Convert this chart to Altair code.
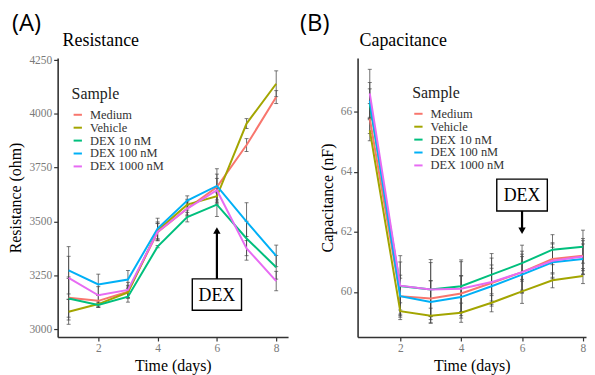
import altair as alt
import pandas as pd

days = [1, 2, 3, 4, 5, 6, 7, 8]
samples = ["Medium", "Vehicle", "DEX 10 nM", "DEX 100 nM", "DEX 1000 nM"]
colors = ["#F8766D", "#A3A500", "#00BF7D", "#00B0F6", "#E76BF3"]

# Resistance (ohm)
res_medium = [3145, 3131, 3173, 3450, 3560, 3660, 3855, 4078]
res_vehicle = [3080, 3116, 3170, 3458, 3578, 3617, 3955, 4140]
res_dex10 = [3142, 3112, 3150, 3383, 3520, 3578, 3421, 3287]
res_dex100 = [3273, 3207, 3230, 3467, 3597, 3665, 3499, 3340]
res_dex1000 = [3238, 3157, 3182, 3452, 3560, 3645, 3375, 3223]
res_err_medium = [90, 25, 30, 40, 35, 60, 30, 30]
res_err_vehicle = [58, 15, 25, 40, 25, 40, 23, 60]
res_err_dex10 = [100, 12, 25, 5, 22, 55, 80, 55]
res_err_dex100 = [110, 48, 42, 48, 22, 80, 88, 50]
res_err_dex1000 = [100, 40, 35, 40, 30, 55, 55, 45]

# Capacitance (nF)
cap_medium = [65.78, 59.86, 59.78, 59.95, 60.30, 60.66, 61.10, 61.21]
cap_vehicle = [65.39, 59.36, 59.21, 59.31, 59.64, 60.02, 60.39, 60.53]
cap_dex10 = [66.27, 60.20, 60.08, 60.19, 60.58, 60.96, 61.41, 61.51]
cap_dex100 = [66.38, 59.86, 59.67, 59.83, 60.19, 60.58, 60.99, 61.10]
cap_dex1000 = [66.62, 60.21, 60.08, 60.11, 60.33, 60.66, 61.04, 61.18]
cap_err_medium = [0.5, 0.6, 0.6, 0.6, 0.6, 0.6, 0.5, 0.5]
cap_err_vehicle = [0.35, 0.28, 0.25, 0.32, 0.3, 0.4, 0.25, 0.25]
cap_err_dex10 = [0.5, 0.8, 0.9, 0.88, 0.7, 0.6, 0.5, 0.55]
cap_err_dex100 = [0.6, 0.7, 0.7, 0.7, 0.6, 0.6, 0.5, 0.5]
cap_err_dex1000 = [0.8, 1.0, 1.0, 0.9, 0.8, 0.7, 0.6, 0.6]

res_ticks = [3000, 3250, 3500, 3750, 4000, 4250]
cap_ticks = [60, 62, 64, 66]
day_ticks = [2, 4, 6, 8]

# DEX annotation (data units)
dex_day = [6]
res_box = [5.17, 6.83, 3087, 3233]
res_arrow = [3233, 3452, 3458]   # shaft start, shaft end, head centre
cap_box = [5.17, 6.83, 62.70, 63.76]
cap_arrow = [62.70, 62.08, 62.04]

SERIF = "Liberation Serif"


def long_df(vals, errs):
    rows = []
    for s, v, e in zip(samples, vals, errs):
        for d, yv, ev in zip(days, v, e):
            rows.append({"day": d, "Sample": s, "value": yv, "lo": yv - ev, "hi": yv + ev})
    return pd.DataFrame(rows)


res_df = long_df([res_medium, res_vehicle, res_dex10, res_dex100, res_dex1000],
                 [res_err_medium, res_err_vehicle, res_err_dex10, res_err_dex100, res_err_dex1000])
cap_df = long_df([cap_medium, cap_vehicle, cap_dex10, cap_dex100, cap_dex1000],
                 [cap_err_medium, cap_err_vehicle, cap_err_dex10, cap_err_dex100, cap_err_dex1000])


def panel(df, xdom, ydom, yticks, ytitle, title, tag, box, arrow, up, legx, legy, w, h,
          tagx, titlex):
    x = alt.X("day:Q", scale=alt.Scale(domain=xdom, nice=False, zero=False),
              axis=alt.Axis(values=day_ticks, title="Time (days)", format="d",
                            titlePadding=3))
    y = alt.Y("value:Q", scale=alt.Scale(domain=ydom, nice=False, zero=False),
              axis=alt.Axis(values=yticks, title=ytitle, format="d"))
    color = alt.Color("Sample:N", scale=alt.Scale(domain=samples, range=colors),
                      legend=alt.Legend(orient="none", legendX=legx, legendY=legy,
                                        title="Sample", symbolType="stroke",
                                        symbolStrokeWidth=2, symbolSize=70,
                                        titleFont=SERIF, titleFontSize=16,
                                        titleFontWeight="normal", titleColor="#222",
                                        labelFont=SERIF, labelFontSize=12.5,
                                        labelColor="#333", rowPadding=0,
                                        titlePadding=7, padding=0, labelOffset=6))
    base = alt.Chart(df)
    bars = base.mark_rule(color="#444", strokeWidth=0.9, opacity=0.85).encode(
        x=x, y="lo:Q", y2="hi:Q")
    caps_lo = base.mark_tick(color="#444", size=4, thickness=1, orient="horizontal").encode(
        x="day:Q", y="lo:Q")
    caps_hi = base.mark_tick(color="#444", size=4, thickness=1, orient="horizontal").encode(
        x="day:Q", y="hi:Q")
    lines = base.mark_line(strokeWidth=2).encode(x=x, y=y, color=color, order="day:Q",
                                                 detail="Sample:N")
    ann = pd.DataFrame({"day": dex_day, "x1": [box[0]], "x2": [box[1]],
                        "y1": [box[2]], "y2": [box[3]], "ym": [(box[2] + box[3]) / 2],
                        "a1": [arrow[0]], "a2": [arrow[1]], "ah": [arrow[2]],
                        "label": ["DEX"], "tag": [tag], "title": [title]})
    abase = alt.Chart(ann)
    rect = abase.mark_rect(fill="white", stroke="black", strokeWidth=1.4).encode(
        x="x1:Q", x2="x2:Q", y="y1:Q", y2="y2:Q")
    txt = abase.mark_text(font=SERIF, fontSize=18, color="black", baseline="middle",
                          dy=1).encode(x="day:Q", y="ym:Q", text="label:N")
    shaft = abase.mark_rule(color="black", strokeWidth=2.2).encode(x="day:Q", y="a1:Q", y2="a2:Q")
    head = abase.mark_point(shape="triangle-up" if up else "triangle-down", filled=True,
                            color="black", size=55, opacity=1).encode(x="day:Q", y="ah:Q")
    tagtxt = abase.mark_text(font="Open Sans", fontSize=24, color="black", align="left",
                             baseline="middle").encode(x=alt.value(tagx), y=alt.value(-34),
                                                       text="tag:N")
    ttl = abase.mark_text(font=SERIF, fontSize=18, color="black", align="left",
                          baseline="alphabetic").encode(x=alt.value(titlex), y=alt.value(-12),
                                                        text="title:N")
    return alt.layer(bars, caps_lo, caps_hi, lines, rect, txt, shaft, head, tagtxt, ttl).properties(
        width=w, height=h)


pa = panel(res_df, [0.63, 8.4], [2963, 4260], res_ticks, "Resistance (ohm)", "Resistance",
           "(A)", res_box, res_arrow, True, 14, 28, 232, 281, -46, 5)
pb = panel(cap_df, [0.6, 8.1], [58.5, 67.8], cap_ticks, "Capacitance (nF)", "Capacitance",
           "(B)", cap_box, cap_arrow, False, 55, 27, 230, 281, -58, 2)

chart = alt.hconcat(pa, pb, spacing=12).resolve_scale(color="independent").configure(
    padding={"top": 3, "left": 0, "right": 0, "bottom": 0}).configure_view(
    stroke=None).configure_axis(
    grid=False, domainColor="#333", domainWidth=1.6, tickColor="#333", tickSize=4,
    tickWidth=1.2, labelColor="#7a7a7a", labelFont=SERIF, labelFontSize=11.5,
    titleFont=SERIF, titleFontSize=16, titleFontWeight="normal", titleColor="black",
    labelPadding=2, titlePadding=5)

chart.save("out.html", embed_options={"renderer": "svg", "actions": False})
